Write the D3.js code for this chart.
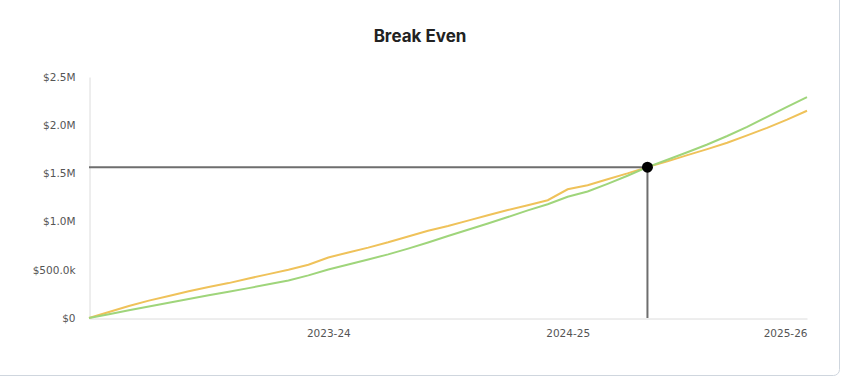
<!DOCTYPE html>
<html>
<head>
<meta charset="utf-8">
<script src="https://cdn.jsdelivr.net/npm/d3@7"></script>
<style>
  body { margin: 0; background: #fff; }
  svg { display: block; }
</style>
</head>
<body>
<div id="vis"></div>
<script>
const w = 841;
const h = 376;

// months from start of 2022-23, 0..36
const months = d3.range(0, 37);
// cumulative values, in $k
const costs = [0, 62, 125, 180, 228, 278, 322, 362, 410, 455, 500, 552, 628,
    680, 730, 785, 845, 905, 955, 1010, 1065, 1120, 1170, 1222, 1335,
    1378, 1440, 1500, 1565, 1625, 1690, 1752, 1818, 1895, 1972, 2058, 2150];
const revenue = [0, 38, 80, 120, 158, 196, 235, 272, 310, 350, 390, 442, 503,
    555, 606, 660, 720, 784, 850, 915, 980, 1047, 1116, 1180, 1258,
    1312, 1392, 1476, 1565, 1642, 1720, 1800, 1888, 1982, 2086, 2190, 2292];
const xTickValues = [12, 24, 36];
const xTickLabels = ['2023-24', '2024-25', '2025-26'];
const yTickValues = [0, 500, 1000, 1500, 2000, 2500];
const breakEven = {month: 28, value: 1565};

const margin = ({top: 77, right: 34, bottom: 58, left: 89});

const svg = d3.select('#vis')
    .append('svg')
    .attr('width', w)
    .attr('height', h)

// card
svg.append('rect')
    .attr('x', -10.5)
    .attr('y', -10.5)
    .attr('width', 850)
    .attr('height', 386)
    .attr('rx', 6)
    .attr('fill', '#fff')
    .attr('stroke', '#cfd6de')

let xScale = d3.scaleLinear()
    .domain([0, 36])
    .range([margin.left, w - margin.right]);

let yScale = d3.scaleLinear()
    .domain([0, 2500])
    .range([h - margin.bottom, margin.top]);

function money(v) {
    if (v === 0) return '$0';
    if (v < 1000) return '$' + d3.format('.1f')(v) + 'k';
    return '$' + d3.format('.1f')(v / 1000) + 'M';
}

svg.append('text')
    .attr('x', 420)
    .attr('y', 42)
    .attr('text-anchor', 'middle')
    .text('Break Even')
    .attr('font-weight', 'bold')
    .attr('font-size', '17px')
    .attr('font-family', 'Inter, sans-serif')
    .attr('fill', '#222')

let yAxis = d3.axisLeft(yScale)
    .tickValues(yTickValues)
    .tickFormat(money)
    .tickSize(0)
    .tickPadding(14);

let xAxis = d3.axisBottom(xScale)
    .tickValues(xTickValues)
    .tickFormat((d, i) => xTickLabels[i])
    .tickSize(0)
    .tickPadding(11);

let gy = svg.append('g')
    .attr('class', 'y axis')
    .attr('transform', 'translate(' + (margin.left + 0.5) + ', 0)')
    .call(yAxis);
gy.select('.domain').attr('stroke', '#dcdcdc');
gy.selectAll('text')
    .attr('fill', '#555')
    .attr('font-size', '10.5px')
    .attr('font-family', 'DejaVu Sans, sans-serif');

let gx = svg.append('g')
    .attr('class', 'x axis')
    .attr('transform', 'translate(0, ' + (h - margin.bottom + 0.5) + ')')
    .call(xAxis);
gx.select('.domain').attr('stroke', '#dcdcdc');
gx.selectAll('text')
    .attr('fill', '#555')
    .attr('font-size', '10.5px')
    .attr('font-family', 'DejaVu Sans, sans-serif')
    .attr('text-anchor', (d, i) => i === xTickValues.length - 1 ? 'end' : 'middle');

let line = (vals) => d3.line()
    .x((d, i) => xScale(months[i]))
    .y(d => yScale(d))(vals);

svg.append('path')
    .attr('d', line(costs))
    .attr('fill', 'none')
    .attr('stroke', '#efc25a')
    .attr('stroke-width', 2);

svg.append('path')
    .attr('d', line(revenue))
    .attr('fill', 'none')
    .attr('stroke', '#9fd57b')
    .attr('stroke-width', 2);

// break even guides
svg.append('line')
    .attr('x1', xScale(0))
    .attr('x2', xScale(breakEven.month))
    .attr('y1', yScale(breakEven.value))
    .attr('y2', yScale(breakEven.value))
    .attr('stroke', '#6e6e6e')
    .attr('stroke-width', 2);

svg.append('line')
    .attr('x1', xScale(breakEven.month))
    .attr('x2', xScale(breakEven.month))
    .attr('y1', yScale(breakEven.value))
    .attr('y2', yScale(0))
    .attr('stroke', '#6e6e6e')
    .attr('stroke-width', 2);

svg.append('circle')
    .attr('cx', xScale(breakEven.month))
    .attr('cy', yScale(breakEven.value))
    .attr('r', 5.5)
    .attr('fill', '#000');
</script>
</body>
</html>
